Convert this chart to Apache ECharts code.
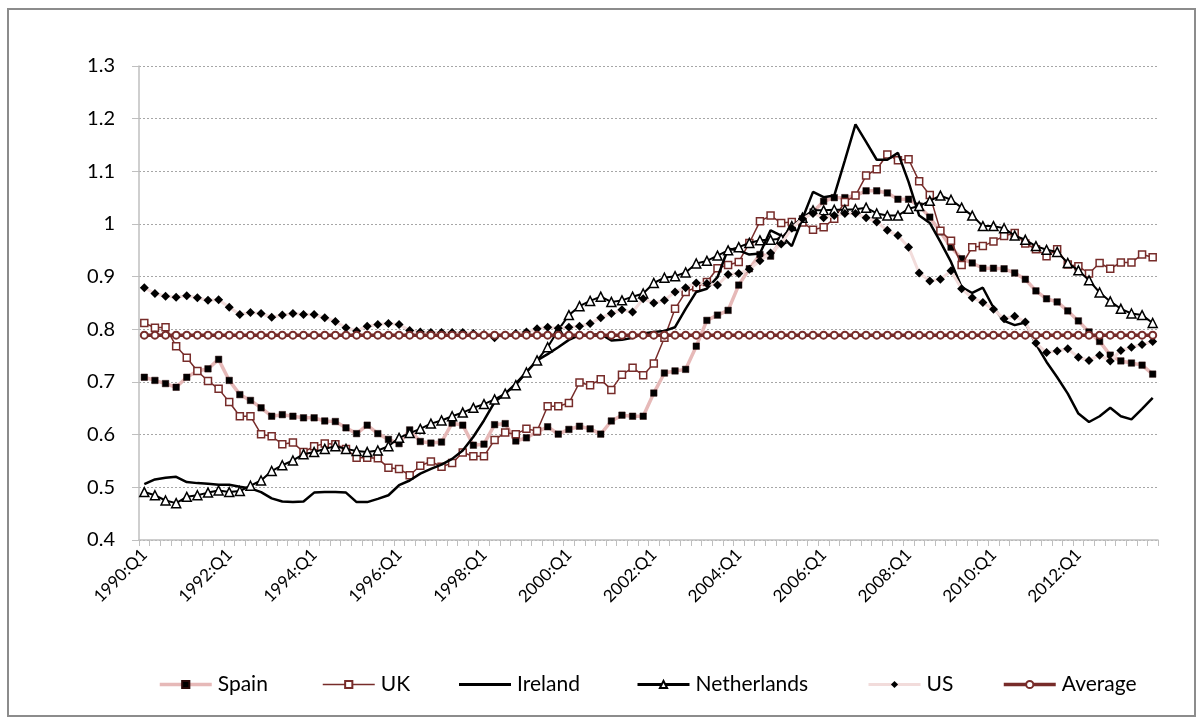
<!DOCTYPE html>
<html><head><meta charset="utf-8">
<script src="https://cdn.jsdelivr.net/npm/echarts@6/dist/echarts.min.js"></script>
<style>html,body{margin:0;padding:0;background:#fff}#c{width:1203px;height:724px}</style>
</head><body><div id="c"></div>
<script>
const years = [1990,1991,1992,1993,1994,1995,1996,1997,1998,1999,2000,2001,2002,2003,2004,2005,2006,2007,2008,2009,2010,2011,2012,2013];
const quarterNames = ['Q1','Q2','Q3','Q4'];
const categories = [];
years.forEach(y => quarterNames.forEach(q => categories.push(y + ':' + q)));

const spain = [0.709,0.703,0.697,0.690,0.709,0.721,0.725,0.743,0.703,0.676,0.665,0.651,0.635,0.638,0.635,0.632,
0.632,0.626,0.625,0.613,0.602,0.618,0.602,0.591,0.583,0.609,0.587,0.584,0.586,0.622,0.618,0.580,
0.582,0.619,0.621,0.588,0.594,0.605,0.615,0.601,0.610,0.616,0.611,0.601,0.626,0.637,0.635,0.635,
0.679,0.717,0.721,0.724,0.768,0.817,0.827,0.836,0.884,0.915,0.942,0.939,0.969,0.994,1.010,1.023,
1.043,1.050,1.050,1.054,1.063,1.063,1.059,1.047,1.047,1.034,1.013,0.985,0.956,0.934,0.926,0.916,
0.916,0.915,0.907,0.895,0.873,0.858,0.852,0.835,0.816,0.795,0.777,0.751,0.740,0.736,0.732,0.715];

const uk = [0.812,0.803,0.804,0.768,0.746,0.721,0.702,0.687,0.662,0.635,0.635,0.601,0.597,0.582,0.585,0.567,
0.578,0.583,0.582,0.573,0.556,0.556,0.555,0.537,0.535,0.523,0.541,0.549,0.539,0.546,0.566,0.559,
0.559,0.590,0.604,0.601,0.611,0.607,0.654,0.654,0.660,0.699,0.694,0.705,0.685,0.714,0.727,0.713,
0.735,0.784,0.839,0.871,0.880,0.890,0.916,0.922,0.928,0.964,1.005,1.016,1.002,1.004,1.003,0.989,
0.994,1.010,1.042,1.054,1.092,1.104,1.132,1.121,1.123,1.081,1.055,0.987,0.968,0.922,0.956,0.958,
0.967,0.977,0.983,0.963,0.952,0.939,0.952,0.923,0.920,0.906,0.926,0.915,0.927,0.927,0.942,0.937];

const ireland = [0.506,0.515,0.518,0.520,0.510,0.508,0.507,0.505,0.505,0.501,0.498,0.491,0.479,0.473,0.472,0.473,
0.490,0.491,0.491,0.490,0.472,0.472,0.478,0.485,0.504,0.513,0.526,0.535,0.543,0.554,0.570,0.596,
0.627,0.662,0.678,0.697,0.719,0.741,0.753,0.766,0.780,0.789,0.789,0.791,0.779,0.780,0.784,0.792,
0.795,0.797,0.804,0.839,0.871,0.877,0.899,0.953,0.950,0.942,0.944,0.988,0.978,0.958,1.010,1.061,
1.051,1.054,1.121,1.189,1.156,1.122,1.122,1.135,1.080,1.016,1.002,0.966,0.928,0.880,0.869,0.879,
0.841,0.816,0.808,0.813,0.772,0.738,0.709,0.678,0.640,0.624,0.635,0.651,0.635,0.629,0.649,0.670];

const netherlands = [0.491,0.485,0.475,0.470,0.482,0.485,0.490,0.494,0.491,0.493,0.503,0.513,0.531,0.542,0.551,0.563,
0.567,0.573,0.578,0.573,0.569,0.567,0.570,0.578,0.594,0.603,0.611,0.621,0.627,0.635,0.642,0.651,
0.658,0.667,0.678,0.694,0.718,0.741,0.766,0.799,0.827,0.844,0.854,0.862,0.852,0.855,0.862,0.868,
0.888,0.898,0.901,0.908,0.925,0.930,0.940,0.950,0.956,0.964,0.969,0.970,0.972,0.996,1.012,1.026,
1.026,1.027,1.027,1.028,1.031,1.020,1.016,1.016,1.029,1.034,1.044,1.054,1.046,1.031,1.016,0.996,
0.996,0.992,0.978,0.970,0.958,0.951,0.947,0.926,0.912,0.893,0.870,0.853,0.839,0.830,0.827,0.812];

const us = [0.879,0.868,0.863,0.861,0.864,0.860,0.855,0.856,0.842,0.828,0.832,0.830,0.823,0.827,0.830,0.828,
0.828,0.822,0.815,0.803,0.797,0.806,0.809,0.811,0.809,0.798,0.795,0.794,0.794,0.794,0.794,0.792,
0.790,0.784,0.789,0.792,0.795,0.801,0.804,0.802,0.804,0.806,0.811,0.822,0.830,0.837,0.833,0.858,
0.850,0.855,0.871,0.879,0.888,0.887,0.884,0.904,0.906,0.914,0.930,0.945,0.962,0.992,1.010,1.020,
1.012,1.016,1.020,1.020,1.012,1.004,0.988,0.978,0.956,0.907,0.892,0.895,0.911,0.877,0.860,0.851,
0.838,0.820,0.825,0.814,0.774,0.756,0.759,0.763,0.747,0.741,0.751,0.740,0.760,0.766,0.771,0.777];

const average = [0.789,0.789,0.789,0.789,0.789,0.789,0.789,0.789,0.789,0.789,0.789,0.789,0.789,0.789,0.789,0.789,
0.789,0.789,0.789,0.789,0.789,0.789,0.789,0.789,0.789,0.789,0.789,0.789,0.789,0.789,0.789,0.789,
0.789,0.789,0.789,0.789,0.789,0.789,0.789,0.789,0.789,0.789,0.789,0.789,0.789,0.789,0.789,0.789,
0.789,0.789,0.789,0.789,0.789,0.789,0.789,0.789,0.789,0.789,0.789,0.789,0.789,0.789,0.789,0.789,
0.789,0.789,0.789,0.789,0.789,0.789,0.789,0.789,0.789,0.789,0.789,0.789,0.789,0.789,0.789,0.789,
0.789,0.789,0.789,0.789,0.789,0.789,0.789,0.789,0.789,0.789,0.789,0.789,0.789,0.789,0.789,0.789];

const FONT = 'Lato, "Open Sans", sans-serif';
const BROWN = '#772C2A';
const chart = echarts.init(document.getElementById('c'), null, {renderer:'canvas'});

function legendAt(name, left, lw, extra) {
  return Object.assign({
    data: [name], left: left, top: 674, padding: 0,
    itemWidth: 52, itemHeight: 9, itemGap: 0,
    lineStyle: {width: lw},
    textStyle: {fontFamily: FONT, fontSize: 21, color: '#000', padding: [0, 0, 0, 1]}
  }, extra || {});
}

chart.setOption({
  animation: false,
  backgroundColor: '#fff',
  graphic: [{
    type: 'rect', z: -10, silent: true,
    shape: {x: 8, y: 9, width: 1187, height: 707},
    style: {fill: 'none', stroke: '#8C8C8C', lineWidth: 2}
  }],
  grid: {left: 139, right: 45, top: 66, bottom: 184, containLabel: false},
  legend: [
    legendAt('Spain', 158, 3.5),
    legendAt('UK', 322, 1.5),
    legendAt('Ireland', 459, 3, {data: [{name: 'Ireland', icon: 'rect'}], itemHeight: 3}),
    legendAt('Netherlands', 636, 3),
    legendAt('US', 867, 3),
    legendAt('Average', 1002, 3.5)
  ],
  xAxis: {
    type: 'category', data: categories, boundaryGap: true,
    axisLine: {lineStyle: {color: '#BFBFBF', width: 1.5}},
    axisTick: {show: true, interval: 0, length: 6, lineStyle: {color: '#BFBFBF'}},
    axisLabel: {interval: 7, rotate: 45, margin: 12, fontFamily: FONT, fontSize: 17, color: '#000'},
    splitLine: {show: false}
  },
  yAxis: {
    type: 'value', min: 0.4, max: 1.3, interval: 0.1,
    axisLine: {show: true, lineStyle: {color: '#BFBFBF', width: 1.5}},
    axisTick: {show: true, length: 7, lineStyle: {color: '#BFBFBF'}},
    axisLabel: {margin: 24, fontFamily: FONT, fontSize: 20, color: '#000'},
    splitLine: {lineStyle: {color: '#A6A6A6', type: [2, 2], width: 1}}
  },
  series: [
    {name: 'Spain', type: 'line', data: spain, showAllSymbol: true,
     symbol: 'rect', symbolSize: 6.5,
     itemStyle: {color: '#000', borderColor: '#2a0a0a', borderWidth: 0.5},
     lineStyle: {color: '#E6B9B8', width: 3.5}, z: 2},
    {name: 'UK', type: 'line', data: uk, showAllSymbol: true,
     symbol: 'rect', symbolSize: 7,
     itemStyle: {color: '#fff', borderColor: BROWN, borderWidth: 1.5},
     lineStyle: {color: BROWN, width: 1.5}, z: 3},
    {name: 'Ireland', type: 'line', data: ireland, symbol: 'none',
     itemStyle: {color: '#000'},
     lineStyle: {color: '#000', width: 2.5}, z: 4},
    {name: 'Netherlands', type: 'line', data: netherlands, showAllSymbol: true,
     symbol: 'triangle', symbolSize: 9,
     itemStyle: {color: '#fff', borderColor: '#000', borderWidth: 1.5},
     lineStyle: {color: '#000', width: 2}, z: 5},
    {name: 'US', type: 'line', data: us, showAllSymbol: true,
     symbol: 'diamond', symbolSize: 9,
     itemStyle: {color: '#000', borderColor: '#000', borderWidth: 0},
     lineStyle: {color: '#F2DCDB', width: 3}, z: 6},
    {name: 'Average', type: 'line', data: average, showAllSymbol: true,
     symbol: 'circle', symbolSize: 7,
     itemStyle: {color: '#fff', borderColor: BROWN, borderWidth: 2},
     lineStyle: {color: BROWN, width: 3.5}, z: 7}
  ]
});
</script>
</body></html>
